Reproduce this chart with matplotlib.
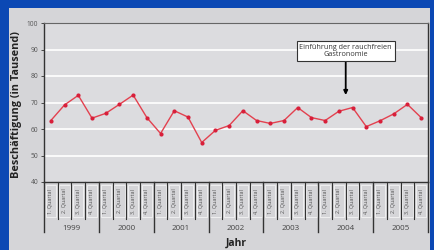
import matplotlib.pyplot as plt
from matplotlib.patches import Rectangle
from matplotlib.transforms import blended_transform_factory

plt.rcParams['font.family'] = ['Open Sans', 'DejaVu Sans']

years = ['1999', '2000', '2001', '2002', '2003', '2004', '2005']
quarters = ['1. Quartal', '2. Quartal', '3. Quartal', '4. Quartal']
employment = [63.2, 69.1, 72.7, 64.1,
              65.9, 69.3, 72.8, 64.3,
              58.3, 66.9, 64.5, 54.9,
              59.5, 61.3, 66.9, 63.2,
              62.1, 63.2, 68.1, 64.3,
              63.2, 66.7, 68.1, 60.9,
              63.1, 65.7, 69.3, 64.3]
yticks = [40, 50, 60, 70, 80, 90, 100]
note = 'Einführung der rauchfreien\nGastronomie'
note_x = 21.5

blue = '#0b48b4'
panel = '#d5d5d8'
plotbg = '#dcdcdf'
red = '#e3414f'

fig = plt.figure(figsize=(4.34, 2.5), dpi=100)
fig.patch.set_facecolor(blue)
fig.patches.append(Rectangle((9 / 434, 0), (430 - 9) / 434, (250 - 8) / 250,
                             transform=fig.transFigure, facecolor=panel,
                             edgecolor='none', zorder=-10))

ax = fig.add_axes([44 / 434, 68 / 250, (428 - 44) / 434, 159 / 250])
ax.set_facecolor(plotbg)

n = len(employment)
xs = list(range(n))
ax.plot(xs, employment, color=red, lw=1.0, zorder=3)
ax.scatter(xs, employment, s=9, color='#d81f3a', zorder=4, linewidths=0)

ax.set_xlim(-0.5, n - 0.5)
ax.set_ylim(40, 100)
ax.set_yticks(yticks)
ax.set_yticklabels([str(t) for t in yticks], fontsize=4.8, color='#555555')
ax.tick_params(axis='y', length=2.5, width=0.6, color='#333333', pad=1.5)
ax.set_xticks([])
for y in yticks[1:-1]:
    ax.axhline(y, color='white', lw=1.2, zorder=1)

for side in ['left', 'right', 'bottom']:
    ax.spines[side].set_color('#333333')
    ax.spines[side].set_linewidth(1.0)
ax.spines['top'].set_color('#666666')
ax.spines['top'].set_linewidth(0.8)

# category axis below the plot
tr = blended_transform_factory(ax.transData, ax.transAxes)
q_low = -0.233
y_low = -0.314
for i in range(n + 1):
    bottom = y_low if i % 4 == 0 else q_low
    ax.plot([i - 0.5, i - 0.5], [0, bottom], transform=tr, color='#333333',
            lw=1.0 if i % 4 == 0 else 0.8, clip_on=False)
for i in range(n):
    ax.add_patch(Rectangle((i - 0.38, -0.222), 0.76, 0.205, transform=tr,
                           facecolor='none', edgecolor='#f4f4f4', lw=0.6,
                           clip_on=False))
    ax.text(i, -0.12, quarters[i % 4], transform=tr, rotation=90,
            ha='center', va='center', fontsize=3.9, color='#555555')
for k, yr in enumerate(years):
    ax.text(4 * k + 1.5, -0.29, yr, transform=tr, ha='center', va='center',
            fontsize=5.8, color='#444444')

ax.text(0.5, -0.385, 'Jahr', transform=ax.transAxes, ha='center',
        va='center', fontsize=7.5, fontweight='bold', color='#222222')
fig.text(17 / 434, (250 - 105) / 250, 'Beschäftigung (in Tausend)',
         rotation=90, ha='center', va='center', fontsize=7.8,
         fontweight='bold', color='#222222')

ax.annotate(note, xy=(note_x, 72.8), xytext=(note_x, 89.5),
            ha='center', va='center', fontsize=5.2, color='#333333',
            linespacing=1.0,
            bbox=dict(boxstyle='square,pad=0.4', facecolor='white',
                      edgecolor='#333333', lw=0.8),
            arrowprops=dict(arrowstyle='-|>,head_width=0.22,head_length=0.45',
                            color='black', lw=1.3, shrinkA=0, shrinkB=0),
            zorder=5)

fig.savefig('out.png', dpi=100, facecolor=fig.get_facecolor())
